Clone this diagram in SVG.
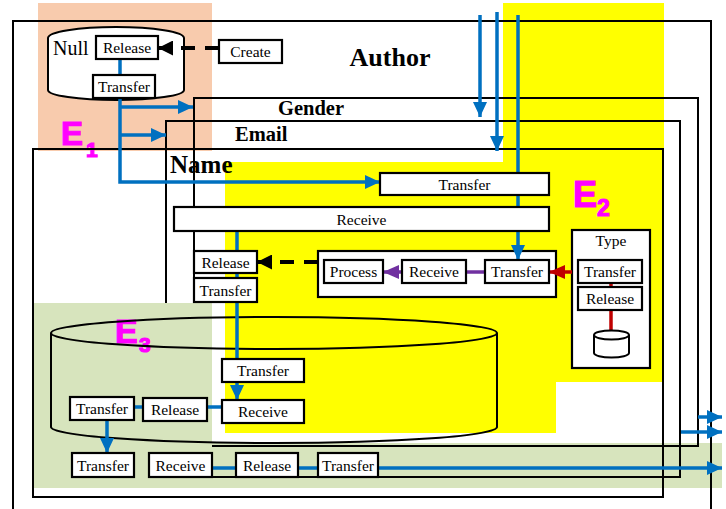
<svg xmlns="http://www.w3.org/2000/svg" width="726" height="509" viewBox="0 0 726 509">
<style>
.frame{fill:none;stroke:#000;stroke-width:2}
.box{fill:#fff;stroke:#000;stroke-width:2.2}
.t{font-family:"Liberation Serif","Times New Roman",serif;font-size:15.5px;text-anchor:middle;fill:#000}
.lbl{font-family:"Liberation Serif","Times New Roman",serif;font-weight:bold;fill:#000}
.e{font-family:"Liberation Sans",Arial,sans-serif;font-weight:bold;fill:#FF00FF;stroke:#FF00FF;stroke-width:1.2}
.blue{fill:none;stroke:#0070C0;stroke-width:3.5}
.dash{fill:none;stroke:#000;stroke-width:4;stroke-dasharray:14 10}
</style>
<defs>
<marker id="ab" markerUnits="userSpaceOnUse" markerWidth="15" markerHeight="14" refX="15" refY="7" orient="auto"><path d="M0,0 L15,7 L0,14 Z" fill="#0070C0"/></marker>
<marker id="ak" markerUnits="userSpaceOnUse" markerWidth="15" markerHeight="15" refX="15" refY="7.5" orient="auto"><path d="M0,0 L15,7.5 L0,15 Z" fill="#000"/></marker>
<marker id="ap" markerUnits="userSpaceOnUse" markerWidth="16" markerHeight="14" refX="16" refY="7" orient="auto"><path d="M0,0 L16,7 L0,14 Z" fill="#7030A0"/></marker>
<marker id="ar" markerUnits="userSpaceOnUse" markerWidth="16" markerHeight="14" refX="16" refY="7" orient="auto"><path d="M0,0 L16,7 L0,14 Z" fill="#C00000"/></marker>
</defs>
<rect width="726" height="509" fill="#fff"/>
<g id="backgrounds">
<rect x="38" y="3" width="174" height="148" fill="#F8CBAD"/>
<polygon points="503,3 664,3 664,382 556,382 556,433 225,433 225,162 503,162" fill="#FFFF00"/>
<rect x="212" y="443" width="510" height="45" fill="#D7E4BD"/>
</g>
<g id="label-e1">
<text class="e" x="61" y="145" font-size="33">E</text><text class="e" x="86" y="157" font-size="21">1</text>
</g>
<g id="frames">
<rect class="frame" x="13" y="21" width="698" height="500"/>
<rect class="frame" x="194" y="98" width="504" height="348"/>
<rect class="frame" x="166" y="121" width="514" height="356"/>
<rect class="frame" x="33" y="149" width="630" height="348"/>
<text class="lbl" x="390" y="66" font-size="26" text-anchor="middle">Author</text>
<text class="lbl" x="278" y="115" font-size="20.5">Gender</text>
<text class="lbl" x="235" y="141" font-size="20.5">Email</text>
<text class="lbl" x="170" y="173" font-size="25">Name</text>
</g>
<rect x="34" y="303" width="178" height="185" fill="#D7E4BD"/>
<g id="label-e2-e3">
<text class="e" x="573" y="207" font-size="36">E</text><text class="e" x="597" y="216" font-size="23">2</text>
<text class="e" x="115" y="343" font-size="34">E</text><text class="e" x="139" y="352" font-size="21">3</text>
</g>
<g id="containers">
<g id="null-store">
<path d="M48,38 A68,11 0 0 1 184,38 L184,90 A68,10 0 0 1 48,90 Z" fill="#fff" stroke="#000" stroke-width="2"/>
<text x="53" y="55" font-family="Liberation Serif, serif" font-size="20">Null</text>
</g>
<g id="e3-store">
<ellipse cx="274" cy="333" rx="223" ry="16" fill="none" stroke="#000" stroke-width="2"/>
<path d="M51,333 L51,427 A223,16 0 0 0 497,427 L497,333" fill="none" stroke="#000" stroke-width="2"/>
</g>
<g id="process-group"><rect class="box" x="318" y="251" width="238" height="46"/></g>
<g id="type">
<rect class="box" x="572" y="230" width="78" height="138"/>
<text class="t" x="611" y="246">Type</text>
</g>
</g>
<g id="connectors">
<path class="blue" d="M120,59 L120,75"/>
<path class="blue" d="M120,98 L120,182 L380,182" marker-end="url(#ab)"/>
<path class="blue" d="M120,107 L193,107" marker-end="url(#ab)"/>
<path class="blue" d="M120,135 L166,135" marker-end="url(#ab)"/>
<path class="blue" d="M480,15 L480,117" marker-end="url(#ab)"/>
<path class="blue" d="M497,12 L497,151" marker-end="url(#ab)"/>
<path class="blue" d="M518,15 L518,260" marker-end="url(#ab)"/>
<path class="blue" d="M237,231 L237,400" marker-end="url(#ab)"/>
<path class="blue" d="M134,407 L222,407"/>
<path class="blue" d="M107,420 L107,453" marker-end="url(#ab)"/>
<path class="blue" d="M212,468 L722,468" marker-end="url(#ab)"/>
<path class="blue" d="M698,417 L722,417" marker-end="url(#ab)"/>
<path class="blue" d="M681,432 L722,432" marker-end="url(#ab)"/>
<path class="dash" d="M219,48 L170,48"/>
<path d="M172,48 L158,48" stroke="#000" stroke-width="4" marker-end="url(#ak)"/>
<path class="dash" d="M318,262 L268,262"/>
<path d="M272,262 L257,262" stroke="#000" stroke-width="4" marker-end="url(#ak)"/>
<path d="M485,272 L383,272" fill="none" stroke="#7030A0" stroke-width="3.5" marker-end="url(#ap)"/>
<path d="M572,272 L549,272" fill="none" stroke="#C00000" stroke-width="3.5" marker-end="url(#ar)"/>
<path d="M611,283 L611,332" fill="none" stroke="#C00000" stroke-width="3.5"/>
</g>
<g id="small-store">
<path d="M594,335 L594,353 A17.5,4.5 0 0 0 629,353 L629,335" fill="#fff" stroke="#000" stroke-width="2"/>
<ellipse cx="611.5" cy="335" rx="17.5" ry="4.5" fill="#fff" stroke="#000" stroke-width="2"/>
</g>
<g id="n-release-null"><rect class="box" x="96" y="36" width="62" height="23"/><text class="t" x="127" y="53">Release</text></g>
<g id="n-create"><rect class="box" x="219" y="40" width="63" height="23"/><text class="t" x="250.5" y="57">Create</text></g>
<g id="n-transfer-null"><rect class="box" x="93" y="75" width="62" height="23"/><text class="t" x="124" y="92">Transfer</text></g>
<g id="n-transfer-top"><rect class="box" x="380" y="173" width="169" height="22"/><text class="t" x="464.5" y="190">Transfer</text></g>
<g id="n-receive-wide"><rect class="box" x="174" y="207" width="375" height="24"/><text class="t" x="361.5" y="224.5">Receive</text></g>
<g id="n-release-left"><rect class="box" x="194" y="251" width="63" height="22"/><text class="t" x="225.5" y="267.5">Release</text></g>
<g id="n-transfer-left"><rect class="box" x="194" y="278" width="63" height="24"/><text class="t" x="225.5" y="295.5">Transfer</text></g>
<g id="n-process"><rect class="box" x="324" y="260" width="59" height="23"/><text class="t" x="353.5" y="277">Process</text></g>
<g id="n-receive-mid"><rect class="box" x="402" y="260" width="64" height="23"/><text class="t" x="434" y="277">Receive</text></g>
<g id="n-transfer-mid"><rect class="box" x="485" y="260" width="64" height="23"/><text class="t" x="517" y="277">Transfer</text></g>
<g id="n-transfer-type"><rect class="box" x="578" y="260" width="64" height="23"/><text class="t" x="610" y="277">Transfer</text></g>
<g id="n-release-type"><rect class="box" x="578" y="287" width="64" height="23"/><text class="t" x="610" y="304">Release</text></g>
<g id="n-transfer-e3"><rect class="box" x="222" y="359" width="82" height="23"/><text class="t" x="263" y="376">Transfer</text></g>
<g id="n-receive-e3"><rect class="box" x="222" y="400" width="82" height="23"/><text class="t" x="263" y="417">Receive</text></g>
<g id="n-transfer-e3l"><rect class="box" x="70" y="397" width="64" height="23"/><text class="t" x="102" y="414">Transfer</text></g>
<g id="n-release-e3"><rect class="box" x="143" y="398" width="64" height="23"/><text class="t" x="175" y="415">Release</text></g>
<g id="n-transfer-b1"><rect class="box" x="72" y="453" width="62" height="24"/><text class="t" x="103" y="470.5">Transfer</text></g>
<g id="n-receive-b"><rect class="box" x="149" y="453" width="63" height="24"/><text class="t" x="180.5" y="470.5">Receive</text></g>
<g id="n-release-b"><rect class="box" x="236" y="453" width="62" height="24"/><text class="t" x="267" y="470.5">Release</text></g>
<g id="n-transfer-b2"><rect class="box" x="318" y="453" width="60" height="24"/><text class="t" x="348" y="470.5">Transfer</text></g>
</svg>
